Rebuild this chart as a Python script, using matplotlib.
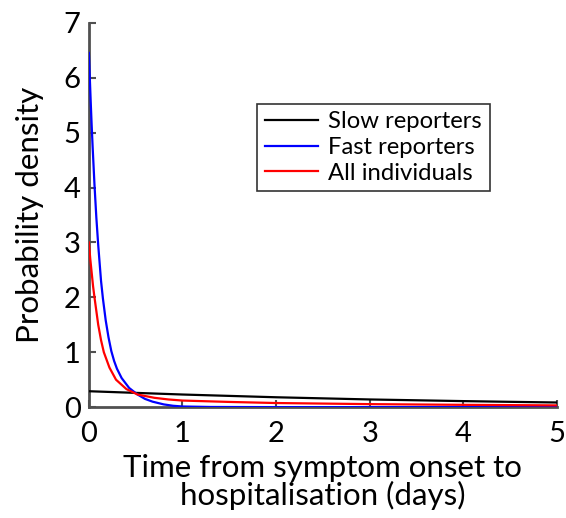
import matplotlib
matplotlib.use("Agg")
import matplotlib.pyplot as plt

# values
slow_x = [0, 0.5, 1, 1.5, 2, 2.5, 3, 3.5, 4, 4.5, 5]
slow_y = [0.29, 0.26, 0.23, 0.205, 0.18, 0.16, 0.14, 0.125, 0.11, 0.097, 0.085]

fast_x = [0, 0.01, 0.02, 0.03, 0.04, 0.05, 0.06, 0.08, 0.1, 0.13, 0.15, 0.18,
          0.21, 0.24, 0.27, 0.3, 0.35, 0.43, 0.52, 0.6, 0.68, 0.8, 0.9, 1.0,
          1.3, 2, 3, 4, 5]
fast_y = [6.45, 6.0, 5.55, 5.13, 4.75, 4.4, 4.05, 3.45, 2.95, 2.3, 1.98, 1.58,
          1.27, 1.02, 0.84, 0.7, 0.53, 0.35, 0.23, 0.15, 0.1, 0.05, 0.025, 0.012,
          0.003, 0, 0, 0, 0]

all_x = [0, 0.015, 0.03, 0.045, 0.06, 0.08, 0.1, 0.13, 0.16, 0.22, 0.29, 0.4,
         0.52, 0.7, 0.85, 1.0, 1.5, 2, 3, 4, 5]
all_y = [3.0, 2.7, 2.45, 2.2, 2.0, 1.75, 1.5, 1.22, 1.0, 0.72, 0.5, 0.33,
         0.23, 0.17, 0.14, 0.12, 0.095, 0.075, 0.055, 0.042, 0.032]

plt.rcParams['font.family'] = ['Lato', 'DejaVu Sans']

fig = plt.figure(figsize=(5.66, 5.18), dpi=100)
ax = fig.add_axes([0.157, 0.214, 0.827, 0.742])

ax.plot(slow_x, slow_y, color='black', lw=1.6, label='Slow reporters', zorder=3)
ax.plot(fast_x, fast_y, color='blue', lw=1.6, label='Fast reporters', zorder=3)
ax.plot(all_x, all_y, color='red', lw=1.6, label='All individuals', zorder=3)

ax.set_xlim(0, 5)
ax.set_ylim(0, 7)
ax.set_xticks(range(6))
ax.set_yticks(range(8))
for s in ['top', 'right']:
    ax.spines[s].set_visible(False)
for s in ['left', 'bottom']:
    ax.spines[s].set_color('#505050')
    ax.spines[s].set_linewidth(2)
ax.tick_params(direction='in', length=5, width=1.5, color='#505050',
               labelsize=21)
ax.tick_params(axis='x', pad=10)
ax.tick_params(axis='y', pad=6)

ax.set_xlabel('Time from symptom onset to\nhospitalisation (days)', fontsize=22.5,
              linespacing=0.95, labelpad=5)
ax.set_ylabel('Probability density', fontsize=22.5, labelpad=14)

leg = ax.legend(loc='upper left', bbox_to_anchor=(0.36, 0.79), fontsize=17.2,
                frameon=True, fancybox=False, edgecolor='black',
                handlelength=2.2, labelspacing=0.2, borderpad=0.32,
                handletextpad=0.45, borderaxespad=0)
leg.get_frame().set_linewidth(1.2)

fig.savefig('out.png', dpi=100)
